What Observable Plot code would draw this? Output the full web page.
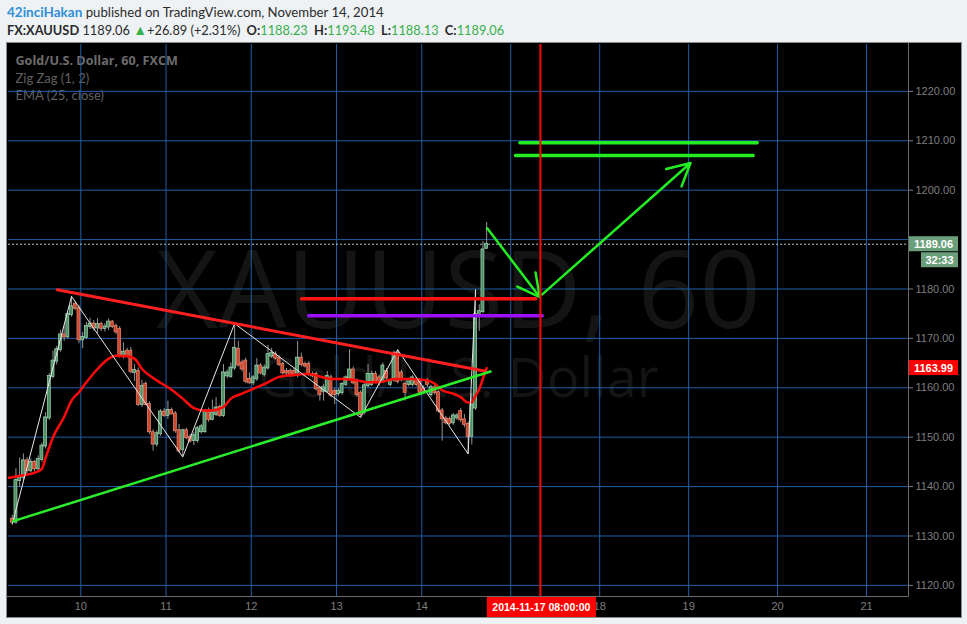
<!DOCTYPE html>
<html>
<head>
<meta charset="utf-8">
<script src="https://cdn.jsdelivr.net/npm/d3@7"></script>
<script src="https://cdn.jsdelivr.net/npm/@observablehq/plot@0.6"></script>
<style>
  html, body { margin: 0; padding: 0; }
  body { width: 967px; height: 624px; background: #eff2f5; position: relative; overflow: hidden; font-family: Lato, "Open Sans", sans-serif; }
  #hdr1 { position: absolute; left: 7px; top: 4px; font-size: 13.2px; color: #2b2b2b; white-space: nowrap; }
  #hdr2 { position: absolute; left: 7px; top: 21px; font-size: 12.8px; color: #2b2b2b; white-space: nowrap; }
  #hdr2 b { font-weight: 700; }
  .user { color: #2e8ed6; font-weight: 700; font-size: 13.5px; }
  .g { color: #36b04a; }
  .tri { color: #36b04a; font-size: 14px; }
  .sp { margin-left: 3px; }
  #chart { position: absolute; left: 6px; top: 42px; width: 954px; height: 574px; border: 1px solid #8c8c8c; background: #000; }
  #chart svg { display: block; }
</style>
</head>
<body>
<div id="hdr1"></div>
<div id="hdr2"></div>
<div id="chart"></div>
<script>
// ---- header / quote ----
const author = "42inciHakan";
const publishNote = "published on TradingView.com, November 14, 2014";
const ticker = "FX:XAUUSD";
const lastPrice = 1189.06;
const priceChange = 26.89;
const priceChangePct = 2.31;
const quoteLabels = ["O", "H", "L", "C"];
const quoteValues = [1188.23, 1193.48, 1188.13, 1189.06];
const countdown = "32:33";

// ---- legend / watermark ----
const symbolCode = "XAUUSD";
const interval = "60";
const description = "Gold/U.S. Dollar";
const exchange = "FXCM";
const indicatorNames = ["Zig Zag (1, 2)", "EMA (25, close)"];

// ---- axes ----
const dayBars = [0, 23, 46, 69, 92, 116, 140, 164, 188, 212];   // hourly bar index of each day start
const dayLabels = ["10", "11", "12", "13", "14", "17", "18", "19", "20", "21"];
const priceTicks = [1120, 1130, 1140, 1150, 1160, 1170, 1180, 1190, 1200, 1210, 1220];

// ---- hourly candles, bar index -19 .. 109 ----
const firstBar = -19;
const candleOpen = [
  1133.4, 1132.8, 1141.2, 1141.9, 1145.2, 1143.2, 1144.9, 1143.6, 1145.5, 1148.2,
  1153.9, 1162.3, 1165.4, 1167.7, 1170.7, 1170.3, 1174.8, 1176.9, 1176.1, 1169.7,
  1170.2, 1172.4, 1172.9, 1172.1, 1172.8, 1172.0, 1172.3, 1173.3, 1172.4, 1171.8,
  1166.4, 1167.4, 1167.4, 1163.1, 1163.3, 1156.6, 1160.7, 1156.6, 1150.9, 1148.6,
  1150.7, 1155.1, 1154.4, 1155.4, 1154.7, 1151.3, 1147.5, 1151.3, 1150.0, 1149.3,
  1149.3, 1151.1, 1151.1, 1155.3, 1153.6, 1154.6, 1156.0, 1154.4, 1162.4, 1162.3,
  1164.0, 1167.8, 1165.0, 1165.4, 1161.7, 1161.0, 1161.8, 1164.4, 1162.7, 1164.0,
  1166.4, 1166.7, 1166.0, 1164.7, 1163.3, 1163.3, 1163.3, 1163.0, 1166.0, 1164.7,
  1164.7, 1162.7, 1162.7, 1159.8, 1159.3, 1159.3, 1162.0, 1159.3, 1158.8, 1159.0,
  1160.7, 1162.0, 1163.6, 1161.3, 1158.9, 1155.0, 1160.4, 1160.7, 1162.7, 1162.0,
  1161.3, 1163.3, 1160.7, 1161.6, 1167.0, 1163.0, 1160.7, 1160.7, 1160.7, 1161.6,
  1161.3, 1159.8, 1161.3, 1158.6, 1160.0, 1159.0, 1155.3, 1153.7, 1153.6, 1152.9,
  1153.9, 1155.2, 1153.5, 1152.6, 1150.2, 1155.9, 1174.8, 1175.4, 1188.23
];
const candleHigh = [
  1134.2, 1143.6, 1145.8, 1146.6, 1145.9, 1145.6, 1145.3, 1146.2, 1148.8, 1155.0,
  1162.9, 1167.4, 1168.4, 1171.6, 1172.6, 1175.3, 1178.5, 1177.5, 1176.7, 1171.2,
  1173.2, 1174.1, 1173.6, 1174.0, 1173.3, 1173.0, 1173.9, 1173.6, 1172.9, 1172.4,
  1169.1, 1168.0, 1168.2, 1164.7, 1164.0, 1161.5, 1161.2, 1157.2, 1151.5, 1151.3,
  1155.6, 1155.8, 1157.3, 1155.9, 1155.2, 1152.6, 1151.6, 1151.8, 1150.5, 1151.0,
  1152.2, 1152.6, 1155.6, 1155.9, 1157.5, 1158.0, 1156.5, 1164.7, 1163.6, 1165.0,
  1173.0, 1169.4, 1165.6, 1166.0, 1163.0, 1162.5, 1165.9, 1164.9, 1164.6, 1168.6,
  1168.0, 1167.3, 1166.5, 1165.2, 1163.9, 1163.8, 1163.9, 1169.4, 1167.0, 1165.2,
  1165.3, 1163.2, 1163.2, 1160.3, 1160.7, 1163.3, 1162.6, 1159.8, 1159.8, 1161.0,
  1162.4, 1167.7, 1164.2, 1161.8, 1159.4, 1160.9, 1164.7, 1163.4, 1163.3, 1162.6,
  1165.0, 1163.9, 1161.8, 1167.4, 1167.7, 1163.6, 1161.2, 1162.0, 1162.5, 1162.1,
  1161.8, 1160.4, 1161.9, 1160.5, 1160.5, 1159.5, 1155.8, 1154.2, 1154.1, 1154.8,
  1154.8, 1155.8, 1154.6, 1153.1, 1158.8, 1179.8, 1176.8, 1189.6, 1193.48
];
const candleLow = [
  1132.4, 1132.4, 1139.8, 1141.2, 1142.6, 1142.8, 1143.0, 1143.1, 1144.9, 1147.6,
  1153.4, 1161.8, 1164.6, 1167.2, 1169.4, 1169.9, 1174.3, 1175.6, 1168.9, 1167.9,
  1169.8, 1171.8, 1171.5, 1171.0, 1171.4, 1171.3, 1171.6, 1172.0, 1170.8, 1166.0,
  1165.8, 1166.0, 1162.8, 1161.3, 1156.2, 1156.0, 1156.3, 1150.5, 1147.2, 1148.0,
  1150.2, 1154.0, 1153.6, 1154.5, 1150.8, 1146.8, 1146.0, 1149.5, 1148.8, 1148.3,
  1148.8, 1150.6, 1150.8, 1153.0, 1153.3, 1154.2, 1154.0, 1154.0, 1161.8, 1161.9,
  1163.5, 1164.2, 1163.2, 1160.8, 1160.7, 1160.4, 1161.3, 1162.6, 1162.2, 1163.6,
  1165.9, 1165.6, 1164.3, 1162.6, 1162.5, 1162.1, 1162.2, 1162.0, 1164.2, 1164.0,
  1162.3, 1162.0, 1159.3, 1157.3, 1157.3, 1158.9, 1158.0, 1156.6, 1158.3, 1158.5,
  1160.2, 1161.6, 1160.6, 1158.1, 1154.0, 1154.5, 1160.0, 1160.3, 1160.8, 1160.3,
  1160.9, 1161.5, 1160.2, 1161.1, 1160.8, 1161.2, 1157.3, 1160.2, 1160.2, 1160.2,
  1158.6, 1158.9, 1160.1, 1158.1, 1158.5, 1154.9, 1149.2, 1152.5, 1152.3, 1152.4,
  1153.4, 1152.9, 1151.9, 1146.6, 1148.4, 1155.4, 1171.4, 1175.0, 1188.13
];
const candleClose = [
  1132.8, 1141.2, 1141.9, 1145.2, 1143.2, 1144.9, 1143.6, 1145.5, 1148.2, 1153.9,
  1162.3, 1165.4, 1167.7, 1170.7, 1170.3, 1174.8, 1176.4, 1176.1, 1169.7, 1170.2,
  1172.4, 1172.9, 1172.1, 1172.8, 1172.0, 1172.3, 1173.3, 1172.4, 1171.3, 1166.4,
  1167.2, 1166.4, 1163.3, 1163.5, 1156.6, 1160.3, 1156.6, 1151.1, 1148.6, 1150.7,
  1155.1, 1154.4, 1155.4, 1154.7, 1151.3, 1147.2, 1151.3, 1149.9, 1149.2, 1150.3,
  1151.7, 1152.1, 1155.3, 1153.6, 1154.9, 1155.9, 1154.4, 1163.0, 1163.0, 1164.0,
  1168.0, 1164.6, 1163.8, 1161.3, 1161.0, 1162.0, 1164.4, 1163.0, 1164.0, 1166.7,
  1167.0, 1166.0, 1164.7, 1163.0, 1163.0, 1162.7, 1162.7, 1166.0, 1164.7, 1164.4,
  1162.7, 1162.4, 1159.8, 1158.6, 1160.0, 1162.3, 1158.5, 1158.6, 1159.3, 1160.7,
  1162.0, 1163.6, 1161.0, 1158.6, 1154.6, 1160.4, 1162.7, 1162.7, 1161.3, 1161.0,
  1164.4, 1162.0, 1161.3, 1167.0, 1161.3, 1161.6, 1159.1, 1161.6, 1162.0, 1160.7,
  1159.1, 1159.3, 1160.7, 1160.0, 1159.0, 1155.3, 1153.7, 1152.9, 1152.8, 1154.3,
  1154.3, 1153.5, 1152.6, 1150.1, 1156.5, 1174.8, 1175.4, 1187.9, 1189.06
];

// ---- EMA (25, close) ----
const emaBars = [-20, -19, -17, -13, -11, -10, -8, -5, -3, -1, 1, 4, 7, 9, 12, 14, 16, 20, 24, 27, 30, 33, 35, 38, 40,
  43, 46, 50, 53, 57, 61, 64, 67, 70, 74, 77, 80, 84, 88, 93, 95, 97, 100, 102, 104, 105, 106, 107, 108, 109];
const emaValues = [1141.8, 1141.9, 1142.2, 1142.8, 1143.6, 1145.8, 1150.0, 1154.1, 1157.4, 1159.1, 1161.1, 1163.8,
  1165.9, 1166.5, 1166.4, 1165.9, 1163.8, 1161.5, 1159.6, 1157.8, 1155.9, 1155.4, 1155.4, 1156.1, 1157.8,
  1158.8, 1159.8, 1161.1, 1162.2, 1162.6, 1162.8, 1162.3, 1161.8, 1161.8, 1161.5, 1161.1, 1161.1, 1161.8,
  1161.8, 1161.5, 1160.8, 1159.5, 1158.8, 1158.1, 1157.0, 1157.1, 1158.4, 1159.7, 1161.9, 1163.99];

// ---- Zig Zag (1, 2) pivots ----
const zigzagBars = [-19, -3, 27, 41, 75, 85, 104, 106];
const zigzagPrices = [1132.4, 1178.5, 1146.0, 1173.0, 1154.0, 1167.7, 1146.6, 1179.8];

// ---- hand drawings: [bar, price] anchors ----
const resistanceLine = [[-6.37, 1179.84], [109.2, 1163.36]];
const supportLine = [[-18.24, 1133.0], [110.55, 1163.3]];
const redLevel = [[59.55, 1178.0], [122.7, 1178.0]];
const purpleLevel = [[61.5, 1174.6], [124.5, 1174.6]];
const targetUpper = [[118.46, 1209.6], [182.5, 1209.6]];
const targetLower = [[117.3, 1207.0], [181.4, 1207.0]];
const arrowDown = [[109.66, 1192.3], [123.85, 1178.34]];
const arrowUp = [[124.5, 1178.9], [164.5, 1205.5]];
const markerBar = 124;                 // 2014-11-17 08:00
const markerLabel = "2014-11-17 08:00:00";
const emaLast = 1163.99;

// ---- header ----
document.getElementById("hdr1").innerHTML =
  `<span class="user">${author}</span> ${publishNote}`;
document.getElementById("hdr2").innerHTML =
  `<b>${ticker}</b> ${lastPrice.toFixed(2)} <span class="tri">&#9650;</span>+${priceChange.toFixed(2)} (+${priceChangePct.toFixed(2)}%)` +
  quoteLabels.map((l, i) => ` <b class="sp">${l}:</b><span class="g">${quoteValues[i].toFixed(2)}</span>`).join("");

// ---- chart ----
const candles = candleOpen.map((o, k) => ({
  bar: firstBar + k, open: o, high: candleHigh[k], low: candleLow[k], close: candleClose[k]
}));
const rising = candles.filter(d => d.close >= d.open);
const falling = candles.filter(d => d.close < d.open);
const ema = emaBars.map((b, k) => ({bar: b, value: emaValues[k]}));
const zigzag = zigzagBars.map((b, k) => ({bar: b, price: zigzagPrices[k]}));
const center = d => d.bar + 0.5;
const px = d => d[0], py = d => d[1];

const gridColor = "#1f5ea6";
const green = "#22ee22";
const watermarkColor = "#141414";

const segment = (pts, stroke, strokeWidth) =>
  Plot.line(pts, {x: px, y: py, stroke, strokeWidth, clip: true});
const arrow = (pts) =>
  Plot.arrow([pts], {x1: d => d[0][0], y1: d => d[0][1], x2: d => d[1][0], y2: d => d[1][1],
    stroke: green, strokeWidth: 2.5, headLength: 15, headAngle: 55});

// axis labels that sit under the date marker tag or the last-price tag are covered
const dayLabel = d => (Math.abs(d - markerBar) < 10 ? "" : dayLabels[dayBars.indexOf(d)]);
const priceLabel = d => (Math.abs(d - lastPrice) < 2 ? "" : d3.format(".2f")(d));

const chart = Plot.plot({
  width: 954,
  height: 574,
  marginLeft: 1,
  marginRight: 53,
  marginTop: 1,
  marginBottom: 21,
  style: {background: "#000", color: "#7e7e7e", fontFamily: "'Liberation Sans', Arial, sans-serif", fontSize: "11px"},
  x: {domain: [-19.51, 223.32], ticks: dayBars, tickFormat: dayLabel, tickSize: 0, tickPadding: 6, label: null},
  y: {domain: [1117.75, 1229.49], axis: "right", ticks: priceTicks, tickFormat: priceLabel, tickSize: 4, tickPadding: 3, label: null},
  marks: [
    // watermark
    Plot.text([`${symbolCode}, ${interval}`], {frameAnchor: "middle", dy: -27, fontSize: 108, fill: watermarkColor, fontFamily: "'Open Sans', sans-serif"}),
    Plot.text([description], {frameAnchor: "middle", dy: 59, fontSize: 54, fill: watermarkColor, fontFamily: "'Open Sans', sans-serif"}),
    // legend
    Plot.text([`${description}, ${interval}, ${exchange}`], {frameAnchor: "top-left", textAnchor: "start", dx: 7, dy: 12, fontSize: 12.6, fontWeight: "bold", fill: "#6c6c6c", fontFamily: "'Open Sans', sans-serif"}),
    Plot.text([indicatorNames[0]], {frameAnchor: "top-left", textAnchor: "start", dx: 7, dy: 29.5, fontSize: 13, fill: "#606060", fontFamily: "Lato, sans-serif"}),
    Plot.text([indicatorNames[1]], {frameAnchor: "top-left", textAnchor: "start", dx: 7, dy: 46.5, fontSize: 13, fill: "#606060", fontFamily: "Lato, sans-serif"}),
    // grid
    Plot.ruleX(dayBars, {stroke: gridColor, strokeWidth: 1}),
    Plot.ruleY(priceTicks, {stroke: gridColor, strokeWidth: 1}),
    // last price line
    Plot.ruleY([lastPrice], {stroke: "#bdbdbd", strokeDasharray: "2,2"}),
    // candles
    Plot.ruleX(candles, {x: center, y1: "low", y2: "high", stroke: "#959595", clip: true}),
    Plot.rect(rising, {x1: d => d.bar + 0.1, x2: d => d.bar + 0.9, y1: "open", y2: "close",
      fill: "#4d8f66", stroke: "#a6d9b5", strokeWidth: 0.7, insetTop: -0.5, insetBottom: -0.5, clip: true}),
    Plot.rect(falling, {x1: d => d.bar + 0.1, x2: d => d.bar + 0.9, y1: "open", y2: "close",
      fill: "#cc462d", stroke: "#ea8c74", strokeWidth: 0.7, insetTop: -0.5, insetBottom: -0.5, clip: true}),
    // indicators
    Plot.line(ema, {x: center, y: "value", stroke: "#ff0a0a", strokeWidth: 2.5, curve: "monotone-x", clip: true}),
    Plot.line(zigzag, {x: center, y: "price", stroke: "#e8e8e8", strokeWidth: 1, clip: true}),
    // drawings
    segment(resistanceLine, "#ff1f1f", 3),
    segment(supportLine, "#2aee2a", 2.5),
    segment(redLevel, "#ff1414", 3.5),
    segment(purpleLevel, "#9a10ff", 3.5),
    segment(targetUpper, green, 3.5),
    segment(targetLower, green, 3.5),
    arrow(arrowDown),
    arrow(arrowUp),
    Plot.ruleX([markerBar], {stroke: "#ff0000", strokeWidth: 2})
  ]
});

document.getElementById("chart").appendChild(chart);

// axis lines and value tags drawn with the plot's own scales
const svg = d3.select(chart);
const xs = chart.scale("x"), ys = chart.scale("y");
const right = xs.range[1], bottom = ys.range[0];
svg.append("line").attr("x1", right + 0.5).attr("x2", right + 0.5).attr("y1", 0).attr("y2", bottom + 0.5)
  .attr("stroke", "#6a6a6a");
svg.append("line").attr("x1", 0).attr("x2", right + 0.5).attr("y1", bottom + 0.5).attr("y2", bottom + 0.5)
  .attr("stroke", "#6a6a6a");

const tagRight = 951;
function tag(cy, x0, text, fill) {
  const g = svg.append("g");
  g.append("rect").attr("x", x0).attr("y", cy - 7.5).attr("width", tagRight - x0).attr("height", 15).attr("fill", fill);
  g.append("text").attr("x", (x0 + tagRight) / 2).attr("y", cy).attr("dy", "0.36em")
    .attr("text-anchor", "middle").attr("fill", "#fff").attr("font-weight", "bold")
    .attr("font-size", 11).attr("font-family", "'Liberation Sans', Arial, sans-serif").text(text);
}
tag(ys.apply(lastPrice), right + 1, lastPrice.toFixed(2), "#6b9f7c");
tag(ys.apply(lastPrice) + 16, right + 13, countdown, "#6b9f7c");
tag(ys.apply(emaLast), right + 1, emaLast.toFixed(2), "#ff0000");

const mx = xs.apply(markerBar);
const dateTag = svg.append("g");
dateTag.append("rect").attr("x", mx - 53).attr("y", bottom + 1).attr("width", 109).attr("height", 20).attr("fill", "#ff0000");
dateTag.append("text").attr("x", mx + 1.5).attr("y", bottom + 11).attr("dy", "0.36em").attr("text-anchor", "middle")
  .attr("fill", "#fff").attr("font-weight", "bold").attr("font-size", 10.5)
  .attr("font-family", "'Liberation Sans', Arial, sans-serif").text(markerLabel);
</script>
</body>
</html>
